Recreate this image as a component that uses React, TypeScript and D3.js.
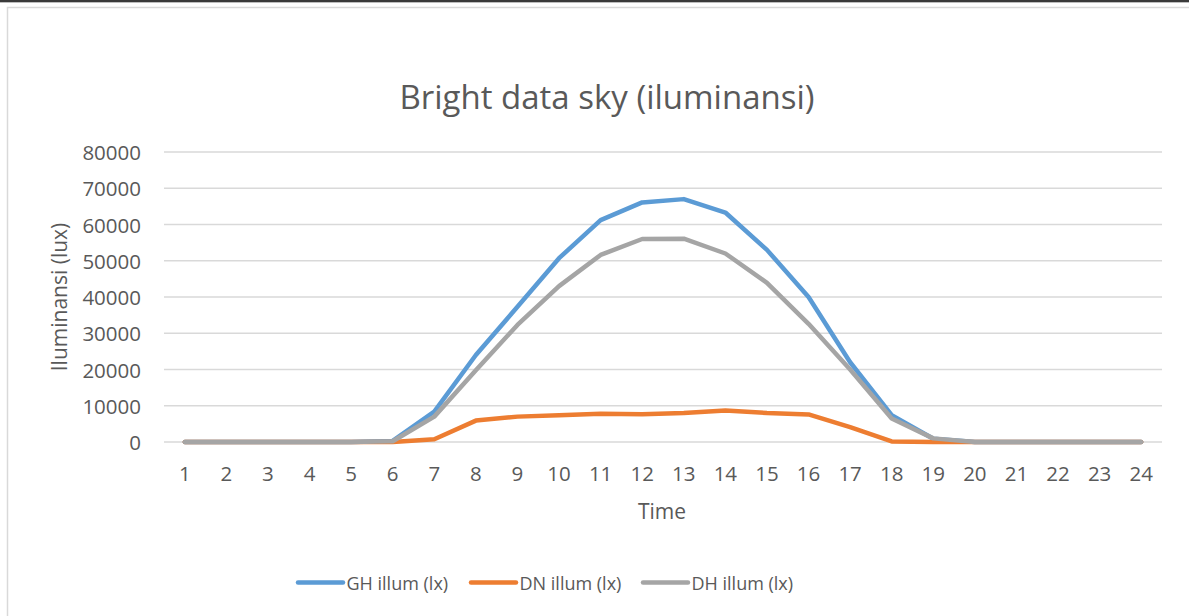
import React from "react";
import * as d3 from "d3";

const hours = d3.range(1, 25).map(String);
const ghIllum = [0, 0, 0, 0, 0, 300, 8400, 24000, 37300, 50700, 61200, 66100, 67000, 63300, 53000, 40000, 22000, 7400, 900, 0, 0, 0, 0, 0];
const dnIllum = [0, 0, 0, 0, 0, 0, 750, 5900, 7000, 7350, 7800, 7650, 8000, 8700, 8000, 7600, 4100, 150, 0, 0, 0, 0, 0, 0];
const dhIllum = [0, 0, 0, 0, 0, 200, 7000, 19800, 32300, 43000, 51600, 56000, 56100, 52000, 43900, 32600, 20000, 6500, 1000, 0, 0, 0, 0, 0];
const yTicks = [0, 10000, 20000, 30000, 40000, 50000, 60000, 70000, 80000];
const seriesNames = ["GH illum (lx)", "DN illum (lx)", "DH illum (lx)"];
const seriesColors = ["#5B9BD5", "#ED7D31", "#A5A5A5"];

const W = 1189;
const H = 616;
const FONT = "'Open Sans', sans-serif";
const TEXT = "#595959";

export default function App() {
  const x = d3.scalePoint<string>().domain(hours).range([164, 1162]).padding(0.5);
  const y = d3.scaleLinear().domain([0, 80000]).range([442, 152]);
  const line = d3
    .line<number>()
    .x((_, i) => x(hours[i]) as number)
    .y((d) => y(d));
  const series = [ghIllum, dnIllum, dhIllum];
  const legendX = [298, 471, 643];

  return (
    <svg
      width={W}
      height={H}
      style={{ position: "absolute", left: 0, top: 0, background: "#fff" }}
      fontFamily={FONT}
    >
      <rect x={0} y={0} width={W} height={H} fill="#fff" />
      <rect x={0} y={0} width={W} height={2} fill="#3a3a3a" />
      <rect x={0} y={2} width={W} height={1} fill="#bdbdbd" />
      <rect x={7.5} y={7.5} width={W} height={H} fill="none" stroke="#d9d9d9" strokeWidth={1.5} />

      <text x={607} y={109} textAnchor="middle" fontSize={33} fill={TEXT}>
        Bright data sky (iluminansi)
      </text>

      {yTicks.map((t) => (
        <g key={t}>
          <line x1={164} x2={1162} y1={y(t)} y2={y(t)} stroke="#d9d9d9" strokeWidth={1.3} />
          <text x={141} y={y(t)} textAnchor="end" dominantBaseline="central" fontSize={20.5} fill={TEXT}>
            {t}
          </text>
        </g>
      ))}

      {hours.map((h) => (
        <text key={h} x={x(h)} y={473} textAnchor="middle" dominantBaseline="central" fontSize={20.5} fill={TEXT}>
          {h}
        </text>
      ))}

      <text x={662} y={511} textAnchor="middle" dominantBaseline="central" fontSize={21} fill={TEXT}>
        Time
      </text>
      <text
        transform={`translate(58.5,297) rotate(-90)`}
        textAnchor="middle"
        dominantBaseline="central"
        fontSize={21}
        fill={TEXT}
      >
        Iluminansi (lux)
      </text>

      {series.map((s, i) => (
        <path
          key={i}
          d={line(s) as string}
          fill="none"
          stroke={seriesColors[i]}
          strokeWidth={4.5}
          strokeLinejoin="round"
          strokeLinecap="round"
        />
      ))}

      {seriesNames.map((n, i) => (
        <g key={n}>
          <line
            x1={legendX[i]}
            x2={legendX[i] + 45}
            y1={582.5}
            y2={582.5}
            stroke={seriesColors[i]}
            strokeWidth={4.5}
            strokeLinecap="round"
          />
          <text x={legendX[i] + 48.5} y={582.5} dominantBaseline="central" fontSize={18} fill={TEXT}>
            {n}
          </text>
        </g>
      ))}
    </svg>
  );
}
